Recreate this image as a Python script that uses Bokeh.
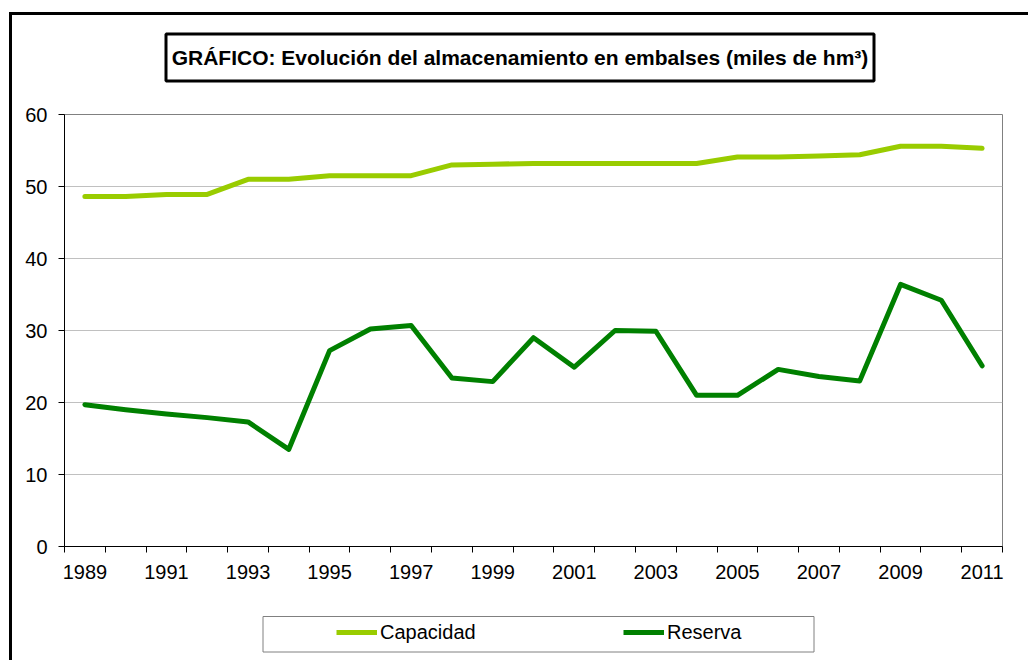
from bokeh.plotting import figure
from bokeh.layouts import column
from bokeh.models import (Range1d, FixedTicker, Label, Legend, LegendItem, BoxAnnotation)
from bokeh.embed import file_html
from bokeh.resources import INLINE

years = list(range(1989, 2012))
capacidad = [48.6, 48.6, 48.9, 48.9, 51.0, 51.0, 51.5, 51.5, 51.5, 53.0, 53.1, 53.2,
             53.2, 53.2, 53.2, 53.2, 54.1, 54.1, 54.25, 54.4, 55.6, 55.6, 55.3]
reserva = [19.7, 19.0, 18.4, 17.9, 17.3, 13.5, 27.2, 30.2, 30.7, 23.4, 22.9, 29.0,
           24.9, 30.0, 29.9, 21.0, 21.0, 24.6, 23.6, 23.0, 36.4, 34.2, 25.1]
y_ticks = [0, 10, 20, 30, 40, 50, 60]
tick_years = list(range(1989, 2012, 2))
tick_labels = [str(y) for y in tick_years]
series_names = ["Capacidad", "Reserva"]
series_colors = ["#99CC00", "#008000"]
title_text = "GRÁFICO: Evolución del almacenamiento en embalses (miles de hm³)"

FONT = "Liberation Sans"
W = 1016
BL, BR = 52, 26
FW = W - BL - BR


def strip(height):
    s = figure(width=W, height=height, output_backend="svg", toolbar_location=None,
               x_range=Range1d(0, FW), y_range=Range1d(0, height),
               x_axis_location=None, y_axis_location=None,
               min_border_left=BL, min_border_right=BR, min_border_top=0,
               min_border_bottom=0, background_fill_color="white",
               border_fill_color="white", outline_line_color=None)
    s.grid.visible = False
    return s


# ---------------- title strip (pixel coordinates) ----------------
TH = 75
t = strip(TH)
t.add_layout(BoxAnnotation(left=101.5, right=809.5, top=56.5, bottom=9.5,
                           fill_color="white", fill_alpha=1,
                           line_color="black", line_alpha=1, line_width=3))
t.add_layout(Label(x=455.5, y=33.3, text=title_text, text_font=FONT,
                   text_font_size="21px", text_font_style="bold", text_color="black",
                   text_align="center", text_baseline="alphabetic"))

# ---------------- main chart ----------------
p = figure(width=W, height=510, output_backend="svg", toolbar_location=None,
           x_range=Range1d(1988.5, 2011.5), y_range=Range1d(0, 60),
           min_border_left=BL, min_border_right=BR, min_border_top=24,
           min_border_bottom=54, background_fill_color="white",
           border_fill_color="white", outline_line_color="#808080")

p.xgrid.visible = False
p.ygrid.grid_line_color = "#c0c0c0"
p.ygrid.ticker = FixedTicker(ticks=y_ticks)

xa = p.xaxis[0]
xa.ticker = FixedTicker(ticks=tick_years, minor_ticks=[y - 0.5 for y in years] + [years[-1] + 0.5])
xa.major_label_overrides = {y: l for y, l in zip(tick_years, tick_labels)}
xa.major_tick_line_color = None
xa.major_tick_out = 6
xa.major_tick_in = 0
xa.minor_tick_out = 6
xa.minor_tick_in = 0
xa.minor_tick_line_color = "black"
xa.axis_line_color = "black"
xa.major_label_standoff = 12
xa.major_label_text_font = FONT
xa.major_label_text_font_size = "20px"
xa.major_label_text_color = "black"

ya = p.yaxis[0]
ya.ticker = FixedTicker(ticks=y_ticks)
ya.major_tick_out = 6
ya.major_tick_in = 0
ya.minor_tick_line_color = None
ya.axis_line_color = "black"
ya.major_tick_line_color = "black"
ya.major_label_standoff = 11
ya.major_label_text_font = FONT
ya.major_label_text_font_size = "20px"
ya.major_label_text_color = "black"

for vals, col in zip([capacidad, reserva], series_colors):
    p.line(years, vals, line_color=col, line_width=5, line_cap="round", line_join="round")

# ---------------- legend strip (pixel coordinates) ----------------
LH = 60
q = strip(LH)
q.add_layout(BoxAnnotation(left=198.5, right=749.5, top=44, bottom=8.5,
                           fill_color="white", fill_alpha=1,
                           line_color="#808080", line_alpha=1, line_width=1))

items = []
for name, vals, col in zip(series_names, [capacidad, reserva], series_colors):
    rr = q.line(years, vals, line_color=col, line_width=5, visible=False)
    items.append(LegendItem(label=name, renderers=[rr]))

legend = Legend(items=items, location=(272, 16), orientation="horizontal",
                padding=0, margin=0, spacing=143,
                glyph_width=41, glyph_height=24, label_height=24, label_width=100,
                label_standoff=3,
                label_text_font=FONT, label_text_font_size="20px",
                label_text_color="black", border_line_color=None,
                background_fill_alpha=0)
q.add_layout(legend)

layout = column(t, p, q, spacing=0,
                styles={"margin-left": "9px", "margin-top": "12px",
                        "border-left": "3px solid black", "border-top": "3px solid black"})

open("out.html", "w").write(file_html(layout, INLINE))
